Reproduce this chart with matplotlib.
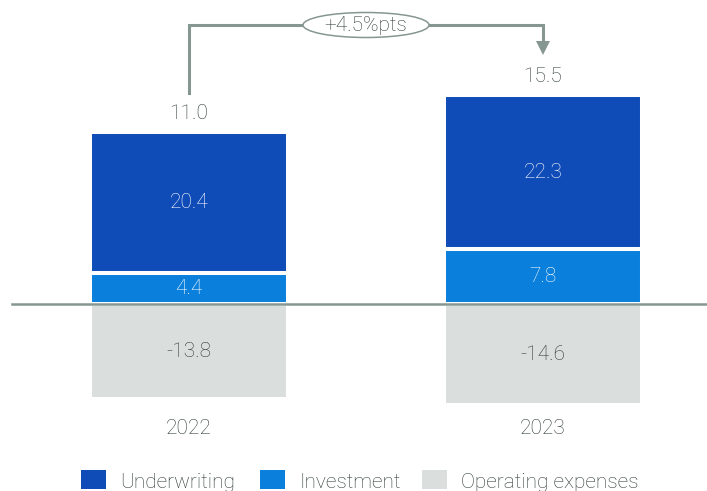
import matplotlib
matplotlib.use("Agg")
import matplotlib.pyplot as plt
from matplotlib.patches import Ellipse, Rectangle
import numpy as np

years = ["2022", "2023"]
underwriting = [20.4, 22.3]
investment = [4.4, 7.8]
operating = [-13.8, -14.6]
totals = [11.0, 15.5]
change_label = "+4.5%pts"
series_names = ["Underwriting", "Investment", "Operating expenses"]

c_uw = "#104cb8"
c_inv = "#0a7fdc"
c_op = "#dadfdd"
c_line = "#869690"
c_text = "#2e3a38"

plt.rcParams['font.family'] = ['Roboto', 'DejaVu Sans']
FW = "light"

W, H = 707, 491
fig = plt.figure(figsize=(W/100, H/100), dpi=100)
ax = fig.add_axes([0, 0, 1, 1])
ax.set_axis_off()

pxu = 6.93  # px per unit
zero_px = 303.5
ax.set_ylim(-(H - zero_px)/pxu, zero_px/pxu)
ax.set_xlim(-189/354, (W - 189)/354)

def ypx(p):
    return (zero_px - p)/pxu

x = np.arange(len(years))
bw = 198/354
ekw = dict(edgecolor="white", linewidth=2.9)
ax.bar(x, investment, bw, color=c_inv, **ekw, zorder=2)
ax.bar(x, underwriting, bw, bottom=investment, color=c_uw, **ekw, zorder=2)
ax.bar(x, operating, bw, color=c_op, **ekw, zorder=2)
ax.axhline(0, xmin=12/W, xmax=1, color=c_line, lw=1.8, zorder=3)

fs = 15
tk = dict(fontsize=fs, fontweight=FW)
for i in range(len(years)):
    ax.text(x[i], investment[i] + underwriting[i]/2, f"{underwriting[i]:.1f}",
            ha="center", va="center", color="white", zorder=4, **tk)
    ax.text(x[i], investment[i]/2, f"{investment[i]:.1f}",
            ha="center", va="center", color="white", zorder=4, **tk)
    ax.text(x[i], operating[i]/2, f"{operating[i]:.1f}",
            ha="center", va="center", color=c_text, zorder=4, **tk)
    top = investment[i] + underwriting[i]
    ax.text(x[i], top + 1.3, f"{totals[i]:.1f}", ha="center", va="bottom",
            color=c_text, **tk)
    ax.text(x[i], ypx(428), years[i], ha="center", va="center",
            color=c_text, **tk)

# bracket arrow
y_top = ypx(25)
y_start = ypx(93)
y_end = ypx(55)
ax.plot([x[0], x[0], x[1], x[1]], [y_start, y_top, y_top, ypx(43)],
        color=c_line, lw=2.2, solid_joinstyle="miter", zorder=3)
ax.fill([x[1] - 7/354, x[1] + 7/354, x[1]], [ypx(41), ypx(41), y_end],
        color=c_line, lw=0, zorder=3)
xm = (366 - 189)/354
ell = Ellipse((xm, y_top), 126/354, 25/pxu, facecolor="white",
              edgecolor=c_line, lw=1.1, zorder=4)
ax.add_patch(ell)
ax.text(xm, y_top, change_label, ha="center", va="center", color=c_text,
        zorder=5, **tk)

# legend (manual layout)
colors = [c_uw, c_inv, c_op]
sq_x = [81, 260, 422]
for cx, col, name in zip(sq_x, colors, series_names):
    fig.patches.append(Rectangle((cx/W, (H - 489)/H), 25/W, 19/H,
                                 transform=fig.transFigure, facecolor=col,
                                 edgecolor="none"))
    fig.text((cx + 39)/W, (H - 483)/H, name, ha="left", va="center",
             color=c_text, **tk)

fig.savefig("out.png", dpi=100)
